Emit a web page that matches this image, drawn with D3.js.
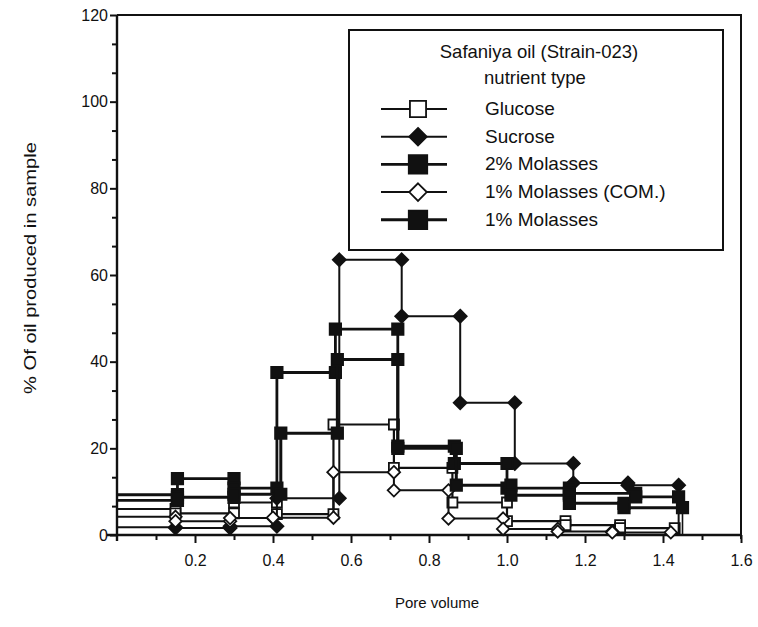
<!DOCTYPE html>
<html>
<head>
<meta charset="utf-8">
<script src="https://cdn.jsdelivr.net/npm/d3@7"></script>
<style>
  body { margin: 0; background: #fff; }
  text { font-family: 'Liberation Sans', Arial, sans-serif; fill: #111; }
</style>
</head>
<body>
<div id="chart"></div>
<script>
// Pore volume breakpoints and % oil produced per interval
const glucoseBreaks   = [0, 0.15, 0.30, 0.41, 0.555, 0.71, 0.86, 1.00, 1.15, 1.29, 1.43];
const glucoseValues   = [6, 5, 7.5, 4.8, 25.5, 15.5, 7.5, 3.2, 2.3, 1.6];

const sucroseBreaks   = [0, 0.15, 0.29, 0.41, 0.57, 0.73, 0.88, 1.02, 1.17, 1.31, 1.44];
const sucroseValues   = [1.8, 1.6, 2, 8.5, 63.5, 50.5, 30.5, 16.5, 12, 11.5];

const mol2Breaks      = [0, 0.155, 0.30, 0.41, 0.56, 0.72, 0.865, 1.00, 1.16, 1.33, 1.44];
const mol2Values      = [8, 13, 10.8, 37.5, 47.5, 20.5, 16.5, 10.8, 9.6, 8.8];

const molComBreaks    = [0, 0.15, 0.29, 0.40, 0.555, 0.71, 0.85, 0.99, 1.13, 1.27, 1.42];
const molComValues    = [4.2, 3.2, 3.9, 4, 14.5, 10.3, 3.8, 1.4, 0.8, 0.6];

const mol1Breaks      = [0, 0.155, 0.30, 0.42, 0.565, 0.72, 0.87, 1.01, 1.16, 1.30, 1.45];
const mol1Values      = [9.3, 8.7, 9.4, 23.5, 40.5, 20, 11.5, 9.2, 7.3, 6.3];

const seriesNames = ['Glucose', 'Sucrose', '2% Molasses', '1% Molasses (COM.)', '1% Molasses'];
const xTickLabels = [0.2, 0.4, 0.6, 0.8, 1.0, 1.2, 1.4, 1.6];
const yTickLabels = [0, 20, 40, 60, 80, 100, 120];

// plain 45-degree diamond (d3's own diamond is too tall)
const symbolRhombus = {
  draw(ctx, size) {
    const r = Math.sqrt(size) * 0.62;
    ctx.moveTo(0, -r); ctx.lineTo(r, 0); ctx.lineTo(0, r); ctx.lineTo(-r, 0); ctx.closePath();
  }
};

const series = [
  { name: seriesNames[0], breaks: glucoseBreaks, values: glucoseValues, symbol: d3.symbolSquare, size: 100, legSize: 260, fill: '#fff', width: 2.2 },
  { name: seriesNames[1], breaks: sucroseBreaks, values: sucroseValues, symbol: symbolRhombus, size: 110, legSize: 200, fill: '#111', width: 2 },
  { name: seriesNames[2], breaks: mol2Breaks, values: mol2Values, symbol: d3.symbolSquare, size: 130, legSize: 340, fill: '#111', width: 2.8 },
  { name: seriesNames[3], breaks: molComBreaks, values: molComValues, symbol: symbolRhombus, size: 100, legSize: 200, fill: '#fff', width: 2 },
  { name: seriesNames[4], breaks: mol1Breaks, values: mol1Values, symbol: d3.symbolSquare, size: 130, legSize: 340, fill: '#111', width: 3 }
];

const W = 758, H = 627;
const svg = d3.select('#chart').append('svg')
  .attr('width', W).attr('height', H);

const x = d3.scaleLinear().domain([0, 1.6]).range([117, 741]);
const y = d3.scaleLinear().domain([0, 120]).range([535, 15]);

// frame (top and right)
svg.append('path')
  .attr('d', `M${x(0)},${y(120)}H${x(1.6)}V${y(0) + 4}`)
  .attr('fill', 'none').attr('stroke', '#111').attr('stroke-width', 2);

// x axis: minor then major
svg.append('g')
  .attr('transform', `translate(0,${y(0)})`)
  .call(d3.axisBottom(x).tickValues(d3.range(1, 16, 2).map(d => d / 10)).tickSize(5).tickFormat(''))
  .call(g => g.select('.domain').remove())
  .call(g => g.selectAll('line').attr('stroke', '#111').attr('stroke-width', 2));

svg.append('g')
  .attr('transform', `translate(0,${y(0)})`)
  .call(d3.axisBottom(x).tickValues(xTickLabels).tickSize(8).tickSizeOuter(0).tickPadding(12).tickFormat(d3.format('.1f')))
  .call(g => g.select('.domain').attr('stroke', '#111').attr('stroke-width', 2.4).attr('d', `M${x(0) - 10},0H${x(1.6)}`))
  .call(g => g.selectAll('line').attr('stroke', '#111').attr('stroke-width', 2))
  .call(g => g.selectAll('text').attr('font-size', 16).attr('font-family', "'Liberation Sans', Arial, sans-serif").attr('fill', '#111'));

// y axis: minor then major
const yMinor = d3.range(0, 120, 20 / 3).filter((d, i) => i % 3 !== 0);
svg.append('g')
  .attr('transform', `translate(${x(0)},0)`)
  .call(d3.axisLeft(y).tickValues(yMinor).tickSize(5).tickFormat(''))
  .call(g => g.select('.domain').remove())
  .call(g => g.selectAll('line').attr('stroke', '#111').attr('stroke-width', 2));

svg.append('g')
  .attr('transform', `translate(${x(0)},0)`)
  .call(d3.axisLeft(y).tickValues(yTickLabels).tickSize(7).tickSizeOuter(0).tickPadding(2))
  .call(g => g.select('.domain').attr('stroke', '#111').attr('stroke-width', 2.4).attr('d', `M0,${y(120)}V${y(0) + 6}`))
  .call(g => g.selectAll('line').attr('stroke', '#111').attr('stroke-width', 2))
  .call(g => g.selectAll('text').attr('font-size', 16).attr('font-family', "'Liberation Sans', Arial, sans-serif").attr('fill', '#111'));

// axis titles
svg.append('text')
  .attr('x', 437).attr('y', 608)
  .attr('text-anchor', 'middle').attr('font-size', 15)
  .text('Pore volume');

svg.append('text')
  .attr('transform', `translate(36,268) rotate(-90)`)
  .attr('text-anchor', 'middle').attr('font-size', 16)
  .attr('textLength', 252).attr('lengthAdjust', 'spacingAndGlyphs')
  .text('% Of oil produced in sample');

// step series
const line = d3.line().x(d => x(d[0])).y(d => y(d[1]));

series.forEach(s => {
  const pts = [];
  s.values.forEach((v, i) => {
    pts.push([s.breaks[i], v]);
    pts.push([s.breaks[i + 1], v]);
  });
  const tail = [pts[pts.length - 1], [s.breaks[s.breaks.length - 1], 0]];

  const g = svg.append('g');
  g.append('path')
    .attr('d', line(pts))
    .attr('fill', 'none').attr('stroke', '#111')
    .attr('stroke-width', s.width).attr('stroke-linejoin', 'round');
  g.append('path')
    .attr('d', line(tail))
    .attr('fill', 'none').attr('stroke', '#111').attr('stroke-width', 1.6);

  g.selectAll('path.mark')
    .data(pts.filter(d => d[0] > 0))
    .join('path')
    .attr('class', 'mark')
    .attr('transform', d => `translate(${x(d[0])},${y(d[1])})`)
    .attr('d', d3.symbol().type(s.symbol).size(s.size))
    .attr('fill', s.fill).attr('stroke', '#111').attr('stroke-width', 1.8);
});

// legend
const lg = svg.append('g');
lg.append('rect')
  .attr('x', 349).attr('y', 30).attr('width', 374).attr('height', 220)
  .attr('fill', '#fff').attr('stroke', '#111').attr('stroke-width', 2);
lg.append('text').attr('x', 539).attr('y', 58).attr('text-anchor', 'middle')
  .attr('font-size', 18.5).text('Safaniya oil (Strain-023)');
lg.append('text').attr('x', 535).attr('y', 84).attr('text-anchor', 'middle')
  .attr('font-size', 18.5).text('nutrient type');

series.forEach((s, i) => {
  const ry = 109 + i * 27.7;
  lg.append('line')
    .attr('x1', 381).attr('x2', 447).attr('y1', ry).attr('y2', ry)
    .attr('stroke', '#111').attr('stroke-width', s.width);
  lg.append('path')
    .attr('transform', `translate(418,${ry})`)
    .attr('d', d3.symbol().type(s.symbol).size(s.legSize))
    .attr('fill', s.fill).attr('stroke', '#111').attr('stroke-width', 1.8);
  lg.append('text')
    .attr('x', 485).attr('y', ry + 6)
    .attr('font-size', 19).text(s.name);
});
</script>
</body>
</html>
